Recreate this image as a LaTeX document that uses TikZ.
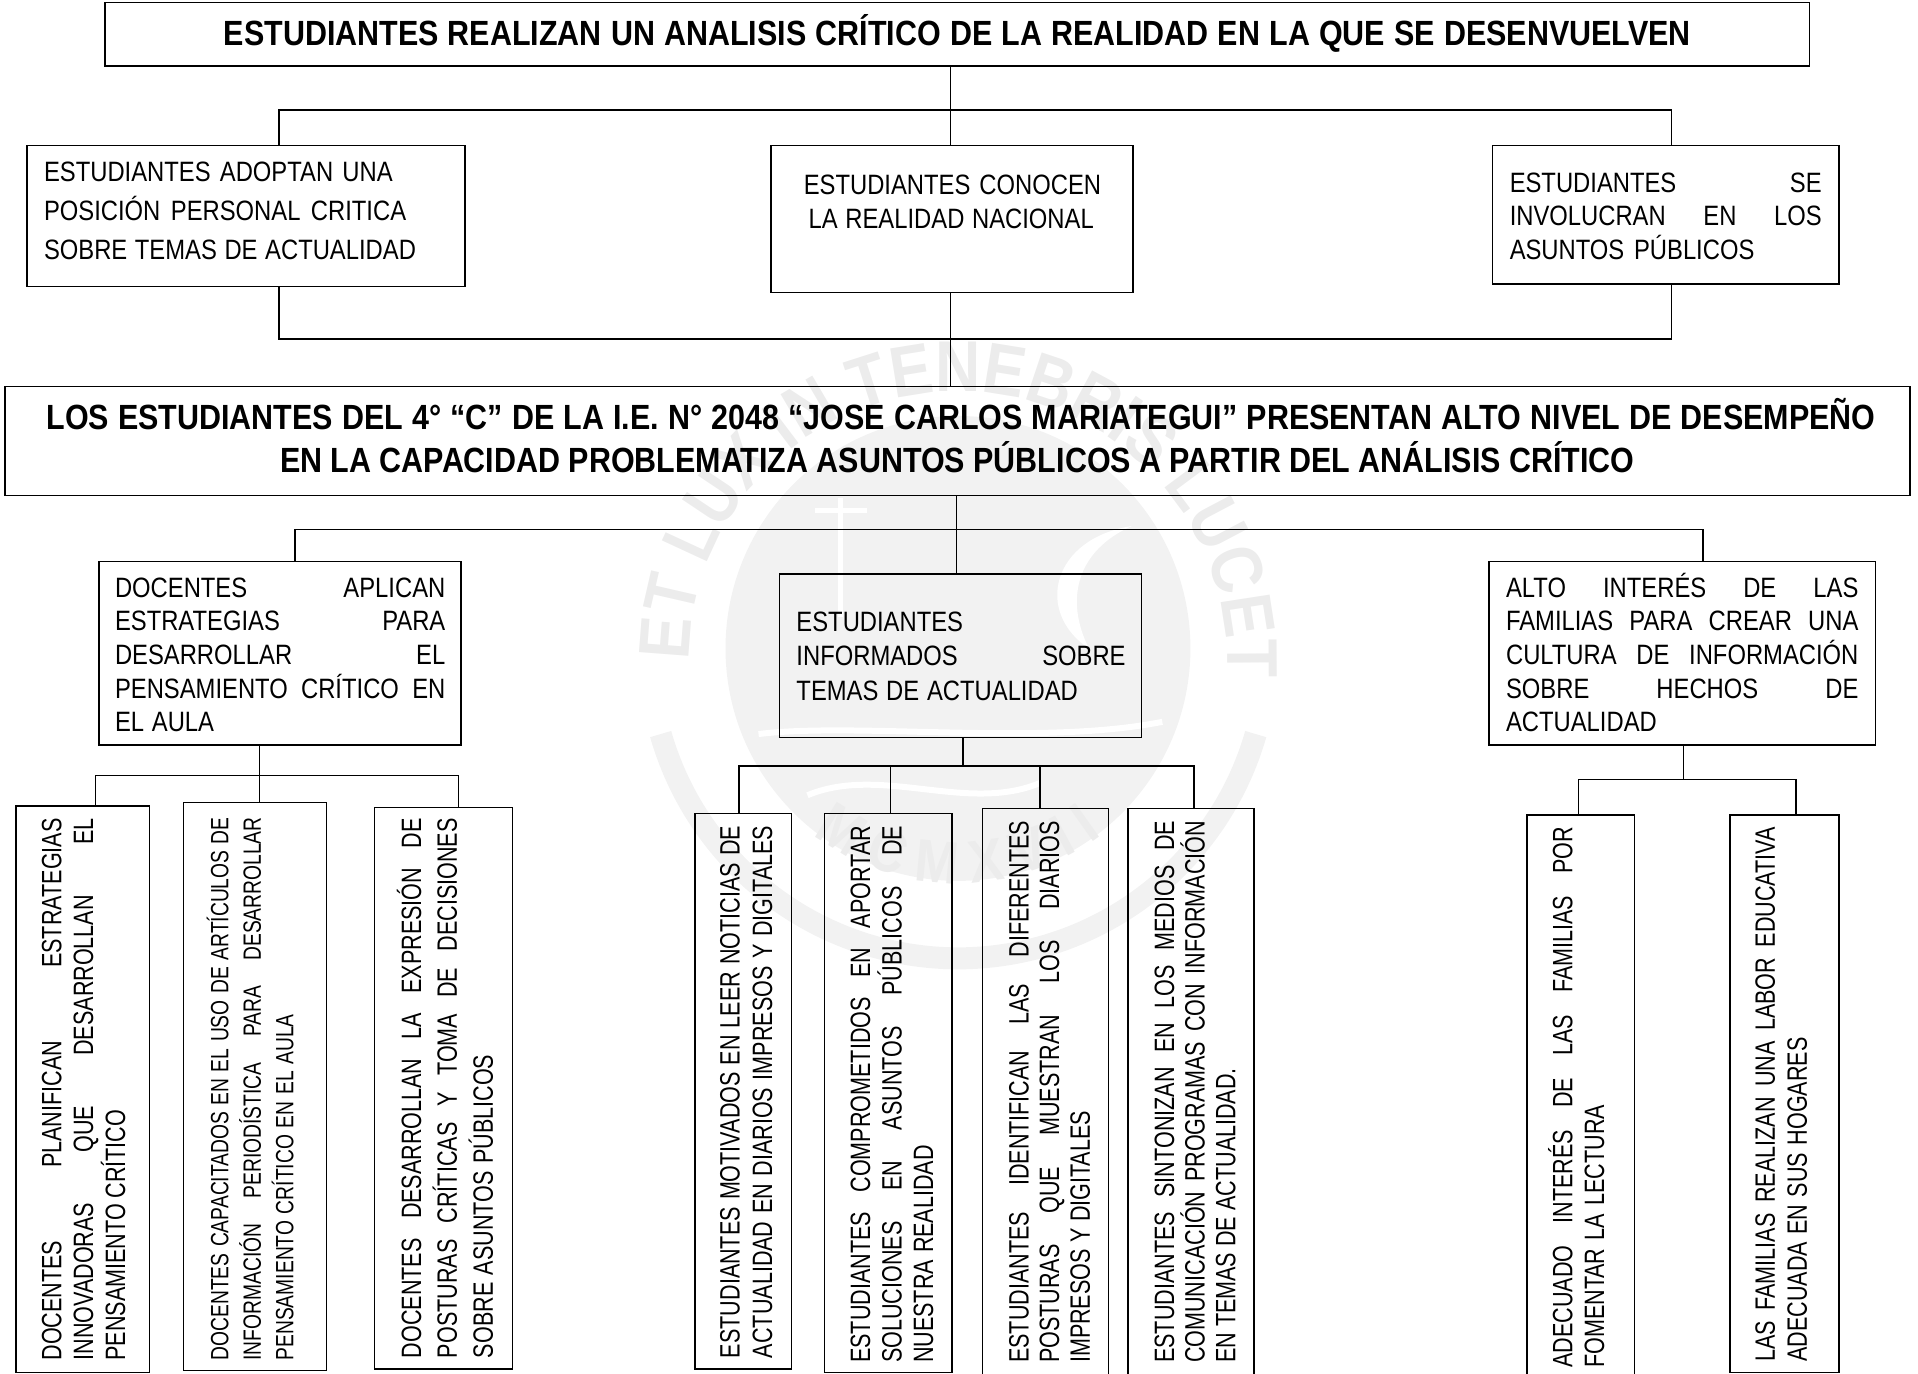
\documentclass[tikz,border=0pt]{standalone}
\usepackage{fontspec}
\usetikzlibrary{decorations.text}
\setmainfont{Liberation Sans}
\newfontfamily\fn[FakeStretch=0.85]{Liberation Sans}
\newfontfamily\fnv[FakeStretch=0.77]{Liberation Sans}
\newfontfamily\fb[FakeStretch=0.87]{Liberation Sans Bold}
\newdimen\uu \uu=0.61175pt
\newcommand{\jl}[2]{\hbox{\makebox[#1\uu][s]{#2}}}
\newcommand{\jk}[3]{\hbox{\kern#1\uu\makebox[#2\uu][s]{#3}}}
\newcommand{\tb}[4]{\makebox[0pt][l]{\kern#1\uu\raisebox{#2}[0pt][0pt]{\vtop{\hsize=1600\uu\lineskiplimit=-\maxdimen #4}}}}
% horizontal box: name x1 y1 x2 y2 textleft firstlinecentre skip lines
\newcommand{\hb}[9]{%
  \pgfmathsetmacro{\cxx}{(#2+#4)/2}\pgfmathsetmacro{\cyy}{(#3+#5)/2}%
  \pgfmathsetmacro{\bw}{#4-#2}\pgfmathsetmacro{\bh}{#5-#3}%
  \pgfmathsetmacro{\oX}{#6-\cxx}\pgfmathsetmacro{\oY}{(\cyy-#7)*0.61175-5}%
  \node[bx,minimum width=\bw\uu,minimum height=\bh\uu] (#1) at (\cxx,\cyy) {\tb{\oX}{\oY pt}{#8}{\fontsize{14}{17}\fn\baselineskip=#8\uu #9}};}
% vertical box: name x1 y1 x2 y2 firstlinecentre textbottom skip lines
\newcommand{\vb}[9]{%
  \pgfmathsetmacro{\cxx}{(#2+#4)/2}\pgfmathsetmacro{\cyy}{(#3+#5)/2}%
  \pgfmathsetmacro{\bw}{#4-#2}\pgfmathsetmacro{\bh}{#5-#3}%
  \pgfmathsetmacro{\oX}{\cyy-#7}\pgfmathsetmacro{\oY}{(\cxx-#6)*0.61175-5}%
  \node[bx,rotate=90,minimum width=\bh\uu,minimum height=\bw\uu] (#1) at (\cxx,\cyy) {\tb{\oX}{\oY pt}{#8}{\fontsize{14}{17}\fnv\baselineskip=#8\uu #9}};}
\tikzset{
  bx/.style={draw=black,line width=0.75pt,inner sep=0pt,outer sep=0pt},
  cn/.style={draw=black,line width=0.7pt},
}
\definecolor{wmc}{gray}{0.925}
\definecolor{wmd}{gray}{0.95}
\begin{document}
\begin{tikzpicture}[x=0.61175pt,y=-0.61175pt]
\clip (0,0) rectangle (1567.7,1123);
% watermark seal
\fill[wmd] (783,530) circle (190);
\draw[wmd,line width=11pt] (540,600) arc[start angle=164,end angle=16,radius=253];
\path[decorate,decoration={text along path,text align={fit to path},
  text={|\fontsize{36}{36}\fb\color{wmc}|ET LUX IN TENEBRIS LUCET}}]
  (563,540) arc[start angle=180,end angle=360,radius=220];
\path[decorate,decoration={text along path,text align=center,
  text={|\fontsize{30}{30}\fb\color{wmc}|M C M X V I I}}]
  (590,560) arc[start angle=170,end angle=10,radius=196];
\draw[white,line width=2.5pt] (687,407) -- (687,504) (666,417) -- (709,417);
\fill[white] (925,430) .. controls (860,440) and (845,500) .. (890,530) .. controls (870,490) and (880,450) .. (925,430);
\draw[white,line width=3pt] (660,650) .. controls (720,625) and (790,665) .. (850,640);
\draw[white,line width=3pt] (620,600) .. controls (700,590) and (850,610) .. (950,590);
% boxes
\hb{top}{86}{2}{1479}{54}{183}{29}{30}{\fontsize{17.5}{20}\fb\jl{1199}{ESTUDIANTES REALIZAN UN ANALISIS CRÍTICO DE LA REALIDAD EN LA QUE SE DESENVUELVEN}}
\hb{a}{22}{119}{380}{234}{36}{140}{32}{\jl{285}{ESTUDIANTES ADOPTAN UNA}\jl{296}{POSICIÓN  PERSONAL CRITICA}\jl{304}{SOBRE TEMAS DE ACTUALIDAD}}
\hb{b}{630}{119}{926}{239}{657}{151}{28}{\jl{243}{ESTUDIANTES CONOCEN}\jk{4}{233}{LA REALIDAD NACIONAL}}
\hb{c}{1220}{119}{1503}{232}{1234}{149}{27.5}{\jl{255}{ESTUDIANTES SE}\jl{255}{INVOLUCRAN EN LOS}\jl{200}{ASUNTOS PÚBLICOS}}
\hb{main}{4}{316}{1561}{405}{38}{343}{35}{\fontsize{17.5}{20}\fb\baselineskip=35\uu\jl{1495}{LOS ESTUDIANTES DEL 4° “C” DE LA I.E. N° 2048 “JOSE CARLOS MARIATEGUI” PRESENTAN ALTO NIVEL DE DESEMPEÑO}\jk{191}{1107}{EN LA CAPACIDAD PROBLEMATIZA ASUNTOS PÚBLICOS A PARTIR DEL ANÁLISIS CRÍTICO}}
\hb{d}{81}{459}{377}{609}{94}{480}{27.5}{\jl{270}{DOCENTES APLICAN}\jl{270}{ESTRATEGIAS PARA}\jl{270}{DESARROLLAR EL}\jl{270}{PENSAMIENTO CRÍTICO EN}\jl{81}{EL AULA}}
\hb{e}{637}{469}{933}{603}{651}{508}{28}{\hbox{ESTUDIANTES}\jl{269}{INFORMADOS SOBRE}\jl{230}{TEMAS DE ACTUALIDAD}}
\hb{f}{1217}{459}{1533}{609}{1231}{480}{27.5}{\jl{288}{ALTO INTERÉS DE LAS}\jl{288}{FAMILIAS PARA CREAR UNA}\jl{288}{CULTURA DE INFORMACIÓN}\jl{288}{SOBRE HECHOS DE}\hbox{ACTUALIDAD}}
\vb{da}{13}{659}{122}{1122}{42}{1112}{26}{\jl{443}{DOCENTES PLANIFICAN ESTRATEGIAS}\jl{443}{INNOVADORAS QUE DESARROLLAN EL}\jl{205}{PENSAMIENTO CRÍTICO}}
\vb{db}{150}{656}{267}{1120}{178.5}{1112}{26.6}{\fontsize{12.5}{15}\fnv\baselineskip=26.6\uu\jl{444}{DOCENTES CAPACITADOS EN EL USO DE ARTÍCULOS DE}\jl{444}{INFORMACIÓN PERIODÍSTICA PARA DESARROLLAR}\jl{283}{PENSAMIENTO CRÍTICO EN EL AULA}}
\vb{dc}{306}{660}{419}{1119}{336}{1110}{29.3}{\jl{441}{DOCENTES DESARROLLAN LA EXPRESIÓN DE}\jl{441}{POSTURAS CRÍTICAS Y TOMA DE DECISIONES}\jl{248}{SOBRE ASUNTOS PÚBLICOS}}
\vb{ea}{568}{665}{647}{1119}{596.4}{1110}{26.6}{\jl{435}{ESTUDIANTES MOTIVADOS EN LEER NOTICIAS DE}\jl{435}{ACTUALIDAD EN DIARIOS IMPRESOS Y DIGITALES}}
\vb{eb}{674}{665}{778}{1122}{703}{1114}{25.8}{\jl{439}{ESTUDIANTES COMPROMETIDOS EN APORTAR}\jl{439}{SOLUCIONES EN ASUNTOS PÚBLICOS DE}\jl{178}{NUESTRA REALIDAD}}
\vb{ec}{803}{661}{906}{1140}{832.6}{1114}{25}{\jl{443}{ESTUDIANTES IDENTIFICAN LAS DIFERENTES}\jl{443}{POSTURAS QUE MUESTRAN LOS DIARIOS}\jl{206}{IMPRESOS Y DIGITALES}}
\vb{ed}{922}{661}{1025}{1140}{951.5}{1114}{25}{\jl{443}{ESTUDIANTES SINTONIZAN EN LOS MEDIOS DE}\jl{443}{COMUNICACIÓN PROGRAMAS CON INFORMACIÓN}\jl{241}{EN TEMAS DE ACTUALIDAD.}}
\vb{fa}{1248}{666}{1336}{1140}{1277}{1118}{26}{\jl{442}{ADECUADO INTERÉS DE LAS FAMILIAS POR}\jl{215}{FOMENTAR LA LECTURA}}
\vb{fb}{1414}{666}{1503}{1122}{1442.6}{1113}{26}{\jl{437}{LAS FAMILIAS REALIZAN UNA LABOR EDUCATIVA}\jl{265}{ADECUADA EN SUS HOGARES}}
% bus coordinates
\coordinate (t1) at (228,90); \coordinate (t2) at (1366,90); \coordinate (t0) at (777,90);
\coordinate (u1) at (228,277); \coordinate (u2) at (1366,277); \coordinate (u0) at (777,277);
\coordinate (m1) at (241,433); \coordinate (m2) at (1392,433); \coordinate (m0) at (782,433);
\coordinate (p1) at (78,634); \coordinate (p2) at (212,634); \coordinate (p3) at (375,634);
\coordinate (q0) at (787,626); \coordinate (q1) at (604,626); \coordinate (q2) at (728,626); \coordinate (q3) at (850,626); \coordinate (q4) at (976,626);
\coordinate (r0) at (1376,637); \coordinate (r1) at (1290,637); \coordinate (r2) at (1468,637);
% connectors
\draw[cn] (t0 |- top.south) -- (t0 |- b.north);
\draw[cn] (t1 |- a.north) |- (t2) -- (t2 |- c.north);
\draw[cn] (t1 |- a.south) |- (u2) -- (u2 |- c.south);
\draw[cn] (u0 |- b.south) -- (u0 |- main.north);
\draw[cn] (m0 |- main.south) -- (m0 |- e.north);
\draw[cn] (m1 |- d.north) |- (m2) -- (m2 |- f.north);
\draw[cn] (p2 |- d.south) -- (p2 |- db.east);
\draw[cn] (p1 |- da.east) |- (p3) -- (p3 |- dc.east);
\draw[cn] (q0 |- e.south) -- (q0);
\draw[cn] (q1 |- ea.east) |- (q4) -- (q4 |- ed.east);
\draw[cn] (q2) -- (q2 |- eb.east);
\draw[cn] (q3) -- (q3 |- ec.east);
\draw[cn] (r0 |- f.south) -- (r0);
\draw[cn] (r1 |- fa.east) |- (r2) -- (r2 |- fb.east);
\end{tikzpicture}
\end{document}
